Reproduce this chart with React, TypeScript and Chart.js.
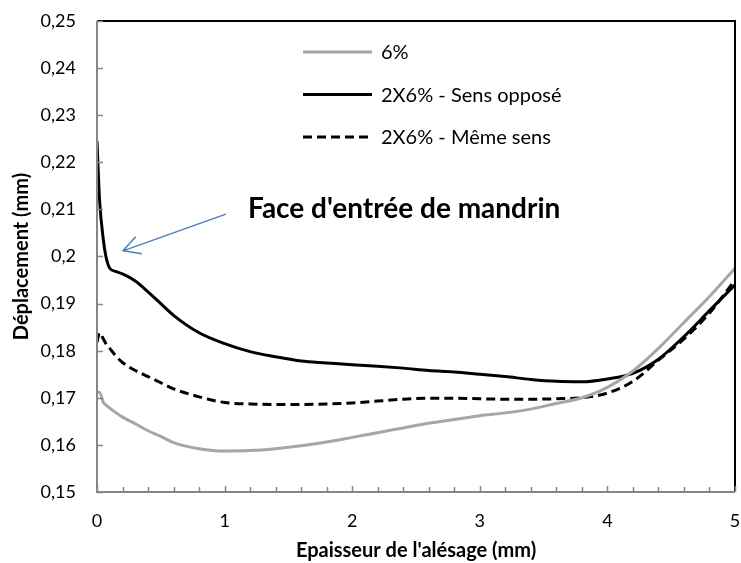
import React, { useEffect, useRef } from "react";
import { Chart, registerables } from "chart.js";

Chart.register(...registerables);

const thicknessMm = [0, 0.02, 0.05, 0.07, 0.1, 0.15, 0.2, 0.3, 0.4, 0.5, 0.6, 0.8, 1.0, 1.2, 1.4, 1.6, 1.8, 2.0, 2.2, 2.4, 2.6, 2.8, 3.0, 3.2, 3.4, 3.6, 3.8, 4.0, 4.2, 4.4, 4.6, 4.8, 5.0];

const disp6 = [0.1712, 0.1712, 0.169, 0.1685, 0.1678, 0.1668, 0.1659, 0.1645, 0.163, 0.1618, 0.1605, 0.1592, 0.1587, 0.1588, 0.1592, 0.1598, 0.1606, 0.1616, 0.1626, 0.1636, 0.1646, 0.1654, 0.1662, 0.1668, 0.1676, 0.1688, 0.17, 0.1722, 0.1757, 0.1805, 0.186, 0.1915, 0.1975];

const dispOppose = [0.2245, 0.212, 0.2035, 0.2, 0.1975, 0.1968, 0.1963, 0.1948, 0.1925, 0.19, 0.1875, 0.1838, 0.1815, 0.1798, 0.1787, 0.1778, 0.1774, 0.177, 0.1767, 0.1763, 0.1758, 0.1755, 0.175, 0.1745, 0.1739, 0.1735, 0.1734, 0.174, 0.1752, 0.1782, 0.183, 0.1885, 0.194];

const dispMeme = [0.1818, 0.1838, 0.1825, 0.1815, 0.1805, 0.1788, 0.1775, 0.1758, 0.1745, 0.1732, 0.1719, 0.1702, 0.169, 0.1687, 0.1686, 0.1686, 0.1687, 0.1689, 0.1693, 0.1697, 0.1699, 0.1699, 0.1698, 0.1697, 0.1697, 0.1698, 0.17, 0.171, 0.1735, 0.178, 0.1825, 0.188, 0.195];

const seriesLabels = ["6%", "2X6% - Sens opposé", "2X6% - Même sens"];
const xAxisTitle = "Epaisseur de l'alésage (mm)";
const yAxisTitle = "Déplacement (mm)";
const annotationText = "Face d'entrée de mandrin";

const FONT = "Lato, 'Open Sans', sans-serif";

const toPoints = (ys: number[]) => thicknessMm.map((x, i) => ({ x, y: ys[i] }));

const decorPlugin = {
  id: "decor",
  afterDraw(chart: any) {
    const { ctx, chartArea, scales } = chart;
    const { left, right, top, bottom } = chartArea;
    const x = scales.x;
    const y = scales.y;
    ctx.save();
    ctx.strokeStyle = "#000";
    ctx.lineWidth = 2;
    ctx.beginPath();
    ctx.moveTo(left, top);
    ctx.lineTo(right, top);
    ctx.lineTo(right, bottom);
    ctx.stroke();
    ctx.strokeStyle = "#868686";
    ctx.lineWidth = 2;
    ctx.beginPath();
    ctx.moveTo(left, top);
    ctx.lineTo(left, bottom);
    ctx.lineTo(right, bottom);
    ctx.stroke();
    ctx.lineWidth = 1.5;
    ctx.beginPath();
    y.ticks.forEach((t: any) => {
      const py = Math.round(y.getPixelForValue(t.value)) + 0.5;
      ctx.moveTo(left, py);
      ctx.lineTo(left + 6, py);
    });
    for (let i = 0; i <= 25; i++) {
      const v = i * 0.2;
      const px = Math.round(x.getPixelForValue(v)) + 0.5;
      const len = i % 5 === 0 ? 6 : 5;
      ctx.moveTo(px, bottom);
      ctx.lineTo(px, bottom - len);
    }
    ctx.stroke();

    const ds = chart.data.datasets;
    ds.forEach((d: any, i: number) => {
      const ly = top + 31 + i * 42.5;
      ctx.strokeStyle = d.borderColor;
      ctx.lineWidth = d.borderWidth;
      ctx.setLineDash(d.borderDash || []);
      ctx.beginPath();
      ctx.moveTo(left + 206, ly);
      ctx.lineTo(left + 275, ly);
      ctx.stroke();
      ctx.setLineDash([]);
      ctx.fillStyle = "#000";
      ctx.font = `20px ${FONT}`;
      ctx.textAlign = "left";
      ctx.textBaseline = "middle";
      ctx.fillText(d.label, left + 284, ly + 1);
    });

    const tailX = x.getPixelForValue(1.01);
    const tailY = y.getPixelForValue(0.209);
    const tipX = x.getPixelForValue(0.204);
    const tipY = y.getPixelForValue(0.2012);
    ctx.strokeStyle = "#4a7ebb";
    ctx.lineWidth = 1.5;
    ctx.beginPath();
    ctx.moveTo(tailX, tailY);
    ctx.lineTo(tipX, tipY);
    const ang = Math.atan2(tipY - tailY, tipX - tailX);
    const hl = 19;
    const spread = 0.5;
    ctx.moveTo(tipX - hl * Math.cos(ang - spread), tipY - hl * Math.sin(ang - spread));
    ctx.lineTo(tipX, tipY);
    ctx.lineTo(tipX - hl * Math.cos(ang + spread), tipY - hl * Math.sin(ang + spread));
    ctx.stroke();

    ctx.fillStyle = "#000";
    ctx.font = `bold 28px ${FONT}`;
    ctx.textAlign = "left";
    ctx.textBaseline = "alphabetic";
    ctx.fillText(annotationText, x.getPixelForValue(1.183), y.getPixelForValue(0.2082));
    ctx.restore();
  },
};

export default function App() {
  const ref = useRef<HTMLCanvasElement>(null);
  useEffect(() => {
    document.body.style.margin = "0";
    const canvas = ref.current;
    if (!canvas) return;
    const chart = new Chart(canvas, {
      type: "line",
      data: {
        datasets: [
          {
            label: seriesLabels[0],
            data: toPoints(disp6),
            borderColor: "#a6a6a6",
            borderWidth: 3,
            pointRadius: 0,
            cubicInterpolationMode: "monotone",
          },
          {
            label: seriesLabels[1],
            data: toPoints(dispOppose),
            borderColor: "#000000",
            borderWidth: 3,
            pointRadius: 0,
            cubicInterpolationMode: "monotone",
          },
          {
            label: seriesLabels[2],
            data: toPoints(dispMeme),
            borderColor: "#000000",
            borderWidth: 3,
            borderDash: [9, 5],
            pointRadius: 0,
            cubicInterpolationMode: "monotone",
          },
        ],
      },
      options: {
        responsive: false,
        animation: false,
        layout: { padding: { left: 0, right: 6, top: 21, bottom: 0 } },
        plugins: { legend: { display: false }, tooltip: { enabled: false } },
        scales: {
          x: {
            type: "linear",
            min: 0,
            max: 5,
            grid: { display: false, drawTicks: false },
            border: { display: false },
            ticks: { stepSize: 1, color: "#000", padding: 18, font: { family: FONT, size: 18 } },
            title: {
              display: true,
              text: xAxisTitle,
              color: "#000",
              font: { family: FONT, size: 20, weight: "bold" },
              padding: { top: 0, bottom: 0 },
            },
            afterFit: (s: any) => {
              s.height = 71;
              s.paddingLeft = 0;
              s.paddingRight = 0;
            },
          },
          y: {
            min: 0.15,
            max: 0.25,
            grid: { display: false, drawTicks: false },
            border: { display: false },
            ticks: {
              stepSize: 0.01,
              color: "#000",
              padding: 21,
              font: { family: FONT, size: 18 },
              callback: (v: any) => String(Math.round(Number(v) * 100) / 100).replace(".", ","),
            },
            title: {
              display: true,
              text: yAxisTitle,
              color: "#000",
              font: { family: FONT, size: 20, weight: "bold" },
              padding: { top: 10, bottom: 0 },
            },
            afterFit: (s: any) => {
              s.width = 97;
              s.paddingTop = 0;
              s.paddingBottom = 0;
            },
          },
        },
      },
      plugins: [decorPlugin],
    } as any);
    return () => chart.destroy();
  }, []);
  return <canvas ref={ref} width={741} height={563} style={{ display: "block" }} />;
}
